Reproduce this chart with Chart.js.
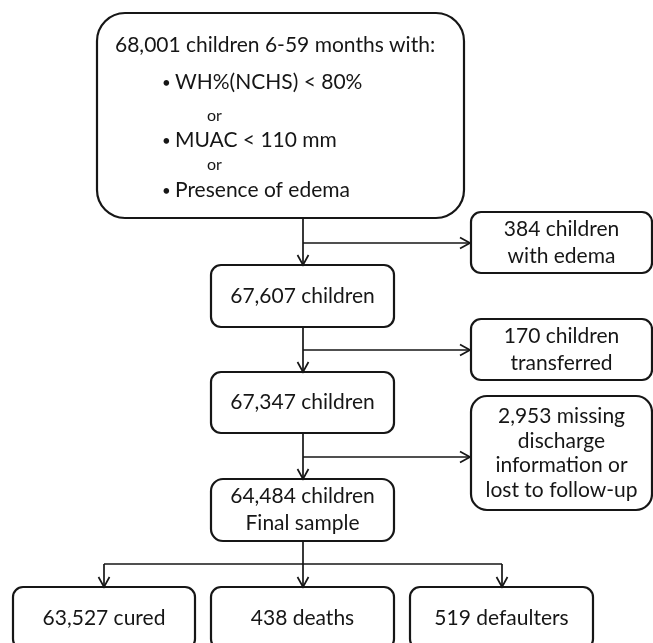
<!DOCTYPE html>
<html>
<head>
<meta charset="utf-8">
<script src="https://cdn.jsdelivr.net/npm/chart.js@4.4.1/dist/chart.umd.min.js"></script>
<style>
  html, body { margin: 0; padding: 0; background: #fff; }
  #wrap { width: 653px; height: 643px; }
</style>
</head>
<body>
<div id="wrap"><canvas id="flow" width="653" height="643"></canvas></div>
<script>
// flow values
const startCount = 68001;
const startLabel = 'children 6-59 months with:';
const criteria = ['WH%(NCHS) < 80%', 'MUAC < 110 mm', 'Presence of edema'];
const stageCounts = [67607, 67347, 64484];
const excludedCounts = [384, 170, 2953];
const excludedText = [
    ['children', 'with edema'],
    ['children', 'transferred'],
    ['missing', 'discharge', 'information or', 'lost to follow-up']
];
const outcomeCounts = [63527, 438, 519];
const outcomeLabels = ['cured', 'deaths', 'defaulters'];

const fmt = n => n.toLocaleString('en-US');
const FONT = 'Lato, "Open Sans", sans-serif';
const INK = '#161616';

// layout in axis units (axes run 0..653 and 0..643)
const spineX = 303;
const startBox = { x0: 97, x1: 464, y0: 13, y1: 218, r: 28 };
const stageBoxes = [
    { x0: 211, x1: 394, y0: 265, y1: 327, r: 10 },
    { x0: 211, x1: 394, y0: 372, y1: 433, r: 10 },
    { x0: 211, x1: 394, y0: 479, y1: 541, r: 12 }
];
const sideBoxes = [
    { x0: 471, x1: 652, y0: 212, y1: 273, r: 10 },
    { x0: 471, x1: 652, y0: 319, y1: 380, r: 10 },
    { x0: 471, x1: 652, y0: 396, y1: 510, r: 16 }
];
const branchY = [243, 350, 457];
const outcomeBoxes = [
    { x0: 13, x1: 195, y0: 587, y1: 649, r: 10 },
    { x0: 211, x1: 394, y0: 587, y1: 649, r: 10 },
    { x0: 410, x1: 593, y0: 587, y1: 649, r: 10 }
];
const splitY = 564;

function roundBox(ctx, x0, y0, x1, y1, r) {
    ctx.beginPath();
    ctx.moveTo(x0 + r, y0);
    ctx.lineTo(x1 - r, y0);
    ctx.arcTo(x1, y0, x1, y0 + r, r);
    ctx.lineTo(x1, y1 - r);
    ctx.arcTo(x1, y1, x1 - r, y1, r);
    ctx.lineTo(x0 + r, y1);
    ctx.arcTo(x0, y1, x0, y1 - r, r);
    ctx.lineTo(x0, y0 + r);
    ctx.arcTo(x0, y0, x0 + r, y0, r);
    ctx.closePath();
    ctx.stroke();
}

const flowPlugin = {
    id: 'flow',
    afterDatasetsDraw(chart) {
        const ctx = chart.ctx;
        const X = v => chart.scales.x.getPixelForValue(v);
        const Y = v => chart.scales.y.getPixelForValue(v);

        const box = b => {
            ctx.lineWidth = 2.2;
            ctx.strokeStyle = INK;
            roundBox(ctx, X(b.x0), Y(b.y0), X(b.x1), Y(b.y1), b.r);
        };
        const line = (xa, ya, xb, yb) => {
            ctx.lineWidth = 1.7;
            ctx.strokeStyle = INK;
            ctx.beginPath();
            ctx.moveTo(X(xa), Y(ya));
            ctx.lineTo(X(xb), Y(yb));
            ctx.stroke();
        };
        const arrowDown = (x, y) => {
            ctx.lineWidth = 1.7;
            ctx.beginPath();
            ctx.moveTo(X(x) - 5.5, Y(y) - 10);
            ctx.lineTo(X(x), Y(y));
            ctx.lineTo(X(x) + 5.5, Y(y) - 10);
            ctx.stroke();
        };
        const arrowRight = (x, y) => {
            ctx.lineWidth = 1.7;
            ctx.beginPath();
            ctx.moveTo(X(x) - 10, Y(y) - 5.5);
            ctx.lineTo(X(x), Y(y));
            ctx.lineTo(X(x) - 10, Y(y) + 5.5);
            ctx.stroke();
        };
        const lines = (arr, cx, cy, gap, size) => {
            ctx.font = size + 'px ' + FONT;
            ctx.fillStyle = INK;
            ctx.textAlign = 'center';
            ctx.textBaseline = 'middle';
            const top = cy - (arr.length - 1) * gap / 2;
            arr.forEach((t, i) => ctx.fillText(t, X(cx), Y(top + i * gap)));
        };
        const mid = b => [(b.x0 + b.x1) / 2, (b.y0 + b.y1) / 2];

        ctx.save();

        // start box
        box(startBox);
        ctx.fillStyle = INK;
        ctx.textBaseline = 'middle';
        ctx.textAlign = 'left';
        ctx.font = '21px ' + FONT;
        ctx.fillText(fmt(startCount) + ' ' + startLabel, X(115), Y(45));
        const critY = [82, 140, 190];
        criteria.forEach((c, i) => {
            ctx.font = '15px ' + FONT;
            ctx.fillText('\u2022', X(162), Y(critY[i] + 1));
            ctx.font = '21px ' + FONT;
            ctx.fillText(c, X(175), Y(critY[i]));
        });
        ctx.font = '16px ' + FONT;
        ctx.fillText('or', X(207), Y(116));
        ctx.fillText('or', X(207), Y(165));

        // main spine with exclusions
        const tops = [startBox.y1].concat(stageBoxes.map(b => b.y1));
        stageBoxes.forEach((b, i) => {
            line(spineX, tops[i], spineX, b.y0);
            arrowDown(spineX, b.y0);
            line(spineX, branchY[i], sideBoxes[i].x0 - 1, branchY[i]);
            arrowRight(sideBoxes[i].x0 - 1, branchY[i]);

            box(b);
            const [cx, cy] = mid(b);
            const txt = i === stageBoxes.length - 1
                ? [fmt(stageCounts[i]) + ' children', 'Final sample']
                : [fmt(stageCounts[i]) + ' children'];
            lines(txt, cx, cy, 27, 21);

            const s = sideBoxes[i];
            box(s);
            const [sx, sy] = mid(s);
            const st = excludedText[i].slice();
            st[0] = fmt(excludedCounts[i]) + ' ' + st[0];
            lines(st, sx, sy, i === 2 ? 24.5 : 26.5, 21);
        });

        // outcomes
        const last = stageBoxes[stageBoxes.length - 1];
        line(spineX, last.y1, spineX, outcomeBoxes[1].y0);
        arrowDown(spineX, outcomeBoxes[1].y0);
        const sideX = [104, 502];
        line(sideX[0], splitY, sideX[1], splitY);
        sideX.forEach((x, k) => {
            const ob = outcomeBoxes[k === 0 ? 0 : 2];
            line(x, splitY, x, ob.y0);
            arrowDown(x, ob.y0);
        });
        outcomeBoxes.forEach((b, i) => {
            box(b);
            lines([fmt(outcomeCounts[i]) + ' ' + outcomeLabels[i]], (b.x0 + b.x1) / 2, 618, 26, 21);
        });

        ctx.restore();
    }
};

const nodePoints = [startBox].concat(stageBoxes, sideBoxes, outcomeBoxes)
    .map(b => ({ x: (b.x0 + b.x1) / 2, y: (b.y0 + b.y1) / 2 }));

new Chart(document.getElementById('flow'), {
    type: 'scatter',
    data: {
        datasets: [{
            label: 'nodes',
            data: nodePoints,
            pointRadius: 0
        }]
    },
    options: {
        responsive: false,
        animation: false,
        layout: { padding: 0 },
        plugins: {
            legend: { display: false },
            tooltip: { enabled: false }
        },
        scales: {
            x: { type: 'linear', min: 0, max: 653, display: false },
            y: { type: 'linear', min: 0, max: 643, reverse: true, display: false }
        }
    },
    plugins: [flowPlugin]
});
</script>
</body>
</html>
